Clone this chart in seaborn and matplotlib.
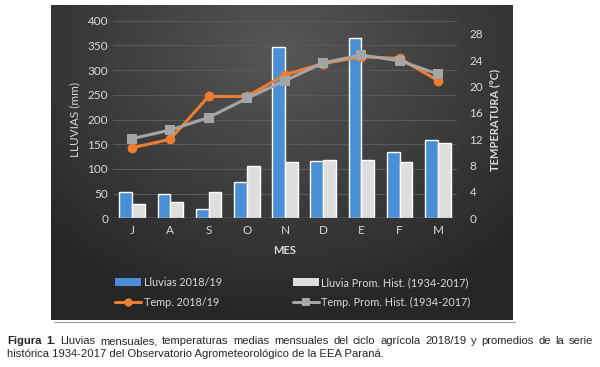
import numpy as np
import pandas as pd
import matplotlib
matplotlib.use("Agg")
import matplotlib.pyplot as plt
import seaborn as sns
from matplotlib.patches import Patch
from matplotlib.lines import Line2D

# ============================================================
# Data
# ============================================================

meses = ["J", "A", "S", "O", "N", "D", "E", "F", "M"]
lluvia_1819 = [53, 50, 18, 73, 347, 117, 364, 134, 158]
lluvia_hist = [29, 33, 53, 105, 113, 118, 118, 113, 152]
temp_1819 = [10.7, 12.0, 18.5, 18.5, 21.8, 23.5, 24.5, 24.3, 20.9]
temp_hist = [12.1, 13.4, 15.3, 18.2, 20.9, 23.6, 24.8, 23.9, 21.9]

lbl_ll = "Lluvias 2018/19"
lbl_lh = "Lluvia Prom. Hist. (1934-2017)"
lbl_tl = "Temp. 2018/19"
lbl_th = "Temp. Prom. Hist. (1934-2017)"

df_bar = pd.DataFrame({
    "mes": meses * 2,
    "lluvia": lluvia_1819 + lluvia_hist,
    "serie": [lbl_ll] * len(meses) + [lbl_lh] * len(meses),
})
idx = list(range(len(meses)))
df_temp = pd.DataFrame({
    "pos": idx * 2,
    "temp": temp_1819 + temp_hist,
    "serie": [lbl_tl] * len(meses) + [lbl_th] * len(meses),
})

azul = "#4a8fd6"
blanco = "#dedede"
naranja = "#ed7d31"
gris = "#a5a5a5"
txt = "#d9d9d9"

sns.set_style("white")
plt.rcParams["font.family"] = ["Lato", "DejaVu Sans"]

fig = plt.figure(figsize=(6.0, 3.67), dpi=100)
fig.patch.set_facecolor("white")

# dark gradient background of the chart box
bg = fig.add_axes([51 / 600, 1 - 320 / 367, 462 / 600, 315 / 367])
yy, xx = np.mgrid[0:1:200j, 0:1:300j]
r = np.sqrt(((xx - 0.5) / 0.75) ** 2 + ((yy - 0.15) / 0.9) ** 2)
v = np.clip(0.34 - 0.2 * r, 0.15, 0.34)
bg.imshow(np.dstack([v, v, v]), extent=[0, 1, 0, 1], aspect="auto", origin="upper")
bg.set_axis_off()

ax = fig.add_axes([113 / 600, 148.7 / 367, 344 / 600, 197.6 / 367])
ax.set_facecolor("none")

sns.barplot(data=df_bar, x="mes", y="lluvia", hue="serie", order=meses,
            palette=[azul, blanco], width=0.67, saturation=1, ax=ax, legend=False)

ax.set_ylim(0, 400)
ax.set_xlim(-0.5, len(meses) - 0.5)
ax.set_yticks(range(0, 401, 50))
ax.grid(axis="y", color="#5a5a5a", linewidth=0.8)
ax.set_axisbelow(True)
ax.axhline(0, color="#8a8a8a", linewidth=1.0, zorder=1)
for s in ax.spines.values():
    s.set_visible(False)
ax.tick_params(axis="both", length=0, colors=txt, labelsize=8.5)
ax.tick_params(axis="x", pad=5)
ax.set_xlabel("MES", color=txt, fontsize=8, fontweight="bold", labelpad=6)
ax.set_ylabel("LLUVIAS (mm)", color=txt, fontsize=8.5, labelpad=5)

ax2 = ax.twinx()
sns.lineplot(data=df_temp, x="pos", y="temp", hue="serie", style="serie",
             palette=[naranja, gris], markers=["o", "s"], dashes=False,
             linewidth=2.2, markersize=7, markeredgewidth=0, ax=ax2, legend=False)
ax2.set_ylim(0, 30)
ax2.set_yticks(range(0, 29, 4))
for s in ax2.spines.values():
    s.set_visible(False)
ax2.tick_params(axis="y", length=0, colors=txt, labelsize=8.5, pad=9)
ax2.set_ylabel("TEMPERATURA (°C)", color=txt, fontsize=8, fontweight="bold", labelpad=4)
ax2.set_xlabel("")

handles = [
    Patch(facecolor=azul, edgecolor="none"),
    Line2D([], [], color=naranja, marker="o", linewidth=2.2, markersize=6, markeredgewidth=0),
    Patch(facecolor=blanco, edgecolor="none"),
    Line2D([], [], color=gris, marker="s", linewidth=2.2, markersize=6, markeredgewidth=0),
]
labels = [lbl_ll, lbl_tl, lbl_lh, lbl_th]
leg = fig.legend(handles, labels, ncol=2, loc="center left",
                 bbox_to_anchor=(110 / 600, 1 - 292.5 / 367), frameon=False,
                 fontsize=7.8, labelcolor=txt, handlelength=2.4, handletextpad=0.2,
                 columnspacing=6.6, labelspacing=0.85, borderpad=0)

# caption below the chart (first line justified word by word)
fig.add_artist(Line2D([54 / 600, 515 / 600], [1 - 322 / 367] * 2, color="#9a9a9a", linewidth=0.8))
cap_font = ["Liberation Sans", "DejaVu Sans"]
cap_size = 8.1
fig.canvas.draw()
renderer = fig.canvas.get_renderer()

line1 = [("Figura", "bold"), ("1.", "bold"), ("Lluvias", "normal"), ("mensuales,", "normal"),
         ("temperaturas", "normal"), ("medias", "normal"), ("mensuales", "normal"),
         ("del", "normal"), ("ciclo", "normal"), ("agrícola", "normal"), ("2018/19", "normal"),
         ("y", "normal"), ("promedios", "normal"), ("de", "normal"), ("la", "normal"),
         ("serie", "normal")]
x_left, x_right = 7, 593
y1 = 1 - 344 / 367
words = []
total = 0
for w, wt in line1:
    t = fig.text(0, y1, w, fontsize=cap_size, fontweight=wt, family=cap_font, va="baseline")
    wd = t.get_window_extent(renderer).width
    words.append((t, wd))
    total += wd
gap = (x_right - x_left - total) / (len(words) - 1)
x = x_left
for t, wd in words:
    t.set_x(x / 600)
    x += wd + gap

fig.text(x_left / 600, 1 - 357 / 367,
         "histórica 1934-2017 del Observatorio Agrometeorológico de la EEA Paraná.",
         fontsize=cap_size, family=cap_font, va="baseline")

fig.savefig("out.png", dpi=100, facecolor="white")
